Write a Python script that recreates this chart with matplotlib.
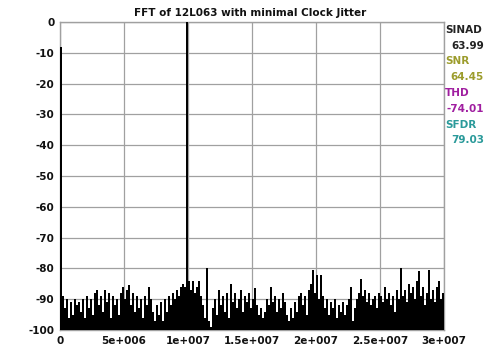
import numpy as np
import matplotlib
matplotlib.use("Agg")
import matplotlib.pyplot as plt

plt.rcParams["axes.unicode_minus"] = False

# ---- data ----
f_max = 3e7
n_bins = 192
level_db = [
    -8, -89, -93, -90, -96, -91, -95, -90, -92, -91,
    -94, -90, -96, -89, -93, -90, -95, -88, -87, -92,
    -89, -94, -87, -91, -88, -96, -89, -92, -90, -95,
    -88, -86, -90, -87, -85.5, -92, -88, -94, -89, -93,
    -90, -96, -89, -92, -86, -90, -94, -97, -92, -95,
    -91, -97, -90, -94, -89, -92, -88, -90, -87, -89,
    -86, -85, -86, 0, -84, -87, -84, -88, -86, -84,
    -89, -92, -96, -80, -97, -99, -93, -90, -95, -87,
    -92, -89, -94, -88, -96, -85, -91, -88, -93, -90,
    -87, -94, -89, -91, -88, -93, -90, -86.5, -92, -95,
    -93, -96, -94, -90, -92, -86, -91, -89, -94, -90,
    -93, -88, -91, -95, -97, -93, -96, -91, -94, -89,
    -88, -92, -89, -95, -87, -85, -80.5, -88, -82, -90,
    -82, -89, -93, -90, -95, -91, -93, -90, -96, -92,
    -94, -91, -95, -92, -90, -86, -97, -93, -90, -88,
    -83.5, -89, -87, -91, -88, -92, -90, -89, -93, -88,
    -89, -91, -86, -90, -88, -92, -89, -94, -87, -90,
    -80, -89, -87, -91, -85, -88, -86, -90, -84, -81,
    -89, -86, -92, -88, -80.5, -90, -87, -91, -86, -84,
    -90, -88,
]
y_ticks = [0, -10, -20, -30, -40, -50, -60, -70, -80, -90, -100]
x_ticks = [0, 5e6, 1e7, 1.5e7, 2e7, 2.5e7, 3e7]
x_tick_labels = ["0", "5e+006", "1e+007", "1.5e+007", "2e+007", "2.5e+007", "3e+007"]
title = "FFT of 12L063 with minimal Clock Jitter"
metrics = [("SINAD", "63.99", "#222222"),
           ("SNR", "64.45", "#9c9c2c"),
           ("THD", "-74.01", "#a01ea0"),
           ("SFDR", "79.03", "#2a9a9a")]

step = f_max / n_bins
freqs = np.arange(len(level_db)) * step
levels = np.array(level_db, dtype=float)

fig = plt.figure(figsize=(4.87, 3.45), dpi=100)
ax = fig.add_axes([60 / 487, 1 - 330 / 345, 384 / 487, 308 / 345])

ax.set_xlim(0, f_max)
ax.set_ylim(-100, 0)
ax.set_xticks(x_ticks)
ax.set_xticklabels(x_tick_labels)
ax.set_yticks(y_ticks)
ax.grid(True, color="#a0a0a0", linewidth=0.9)
ax.set_axisbelow(True)
ax.tick_params(length=0, labelsize=7.5, pad=4)
for lab in ax.get_xticklabels() + ax.get_yticklabels():
    lab.set_fontweight("bold")
    lab.set_color("#111111")
for s in ax.spines.values():
    s.set_color("#a0a0a0")
    s.set_linewidth(1.0)

ax.bar(freqs, levels + 100, bottom=-100, width=step * 0.95,
       align="edge", color="black", linewidth=0, zorder=3)

fig.text(250 / 487, 1 - 13 / 345, title, ha="center", va="center",
         fontsize=7.5, fontweight="bold", color="#111111")

y0 = 30
for i, (name, val, col) in enumerate(metrics):
    yn = y0 + i * 31.5
    fig.text(445 / 487, 1 - yn / 345, name, ha="left", va="center",
             fontsize=7.5, fontweight="bold", color=col)
    fig.text(484 / 487, 1 - (yn + 16) / 345, val, ha="right", va="center",
             fontsize=7.5, fontweight="bold", color=col)

fig.savefig("out.png", dpi=100)
